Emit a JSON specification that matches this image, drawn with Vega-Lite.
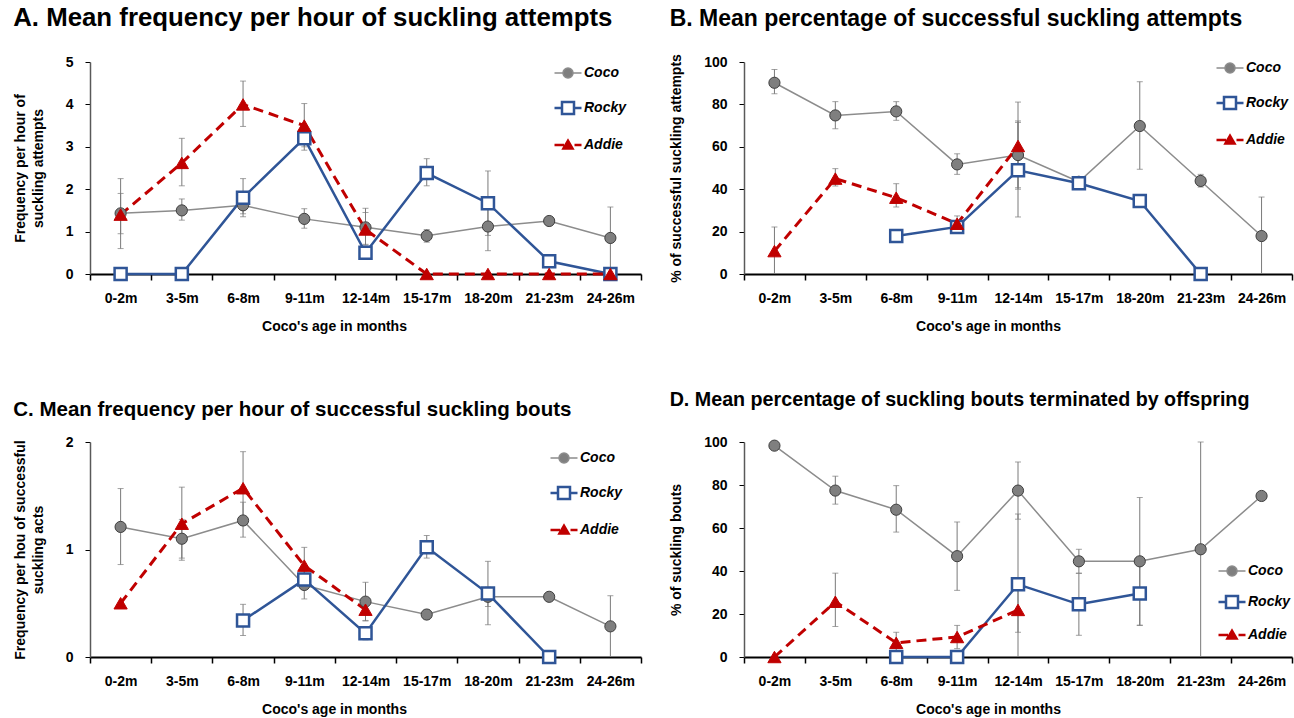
{
  "$schema": "https://vega.github.io/schema/vega-lite/v6.json",
  "padding": {"top": 5, "left": 13, "right": 2, "bottom": 2},
  "background": "#ffffff",
  "datasets": {
    "d": [
      {"p":"A","s":"Coco","k":0,"age":"0-2m","v":1.43,"lo":0.95,"hi":1.9},
      {"p":"A","s":"Coco","k":1,"age":"3-5m","v":1.5,"lo":1.27,"hi":1.77},
      {"p":"A","s":"Coco","k":2,"age":"6-8m","v":1.62,"lo":1.42,"hi":1.82},
      {"p":"A","s":"Coco","k":3,"age":"9-11m","v":1.3,"lo":1.08,"hi":1.54},
      {"p":"A","s":"Coco","k":4,"age":"12-14m","v":1.1,"lo":0.68,"hi":1.55},
      {"p":"A","s":"Coco","k":5,"age":"15-17m","v":0.9,"lo":0.75,"hi":1.05},
      {"p":"A","s":"Coco","k":6,"age":"18-20m","v":1.12,"lo":0.55,"hi":1.69},
      {"p":"A","s":"Coco","k":7,"age":"21-23m","v":1.25},
      {"p":"A","s":"Coco","k":8,"age":"24-26m","v":0.85,"lo":0,"hi":1.58},
      {"p":"A","s":"Rocky","k":0,"age":"0-2m","v":0},
      {"p":"A","s":"Rocky","k":1,"age":"3-5m","v":0},
      {"p":"A","s":"Rocky","k":2,"age":"6-8m","v":1.8,"lo":1.35,"hi":2.25},
      {"p":"A","s":"Rocky","k":3,"age":"9-11m","v":3.2,"lo":2.92,"hi":3.48},
      {"p":"A","s":"Rocky","k":4,"age":"12-14m","v":0.5},
      {"p":"A","s":"Rocky","k":5,"age":"15-17m","v":2.38,"lo":2.08,"hi":2.72},
      {"p":"A","s":"Rocky","k":6,"age":"18-20m","v":1.67,"lo":0.91,"hi":2.43},
      {"p":"A","s":"Rocky","k":7,"age":"21-23m","v":0.3},
      {"p":"A","s":"Rocky","k":8,"age":"24-26m","v":0},
      {"p":"A","s":"Addie","k":0,"age":"0-2m","v":1.4,"lo":0.6,"hi":2.25},
      {"p":"A","s":"Addie","k":1,"age":"3-5m","v":2.62,"lo":2.08,"hi":3.2},
      {"p":"A","s":"Addie","k":2,"age":"6-8m","v":4.0,"lo":3.48,"hi":4.55},
      {"p":"A","s":"Addie","k":3,"age":"9-11m","v":3.5,"lo":3.0,"hi":4.02},
      {"p":"A","s":"Addie","k":4,"age":"12-14m","v":1.05,"lo":0.7,"hi":1.45},
      {"p":"A","s":"Addie","k":5,"age":"15-17m","v":0},
      {"p":"A","s":"Addie","k":6,"age":"18-20m","v":0},
      {"p":"A","s":"Addie","k":7,"age":"21-23m","v":0},
      {"p":"A","s":"Addie","k":8,"age":"24-26m","v":0},

      {"p":"B","s":"Coco","k":0,"age":"0-2m","v":90.2,"lo":85,"hi":96.5},
      {"p":"B","s":"Coco","k":1,"age":"3-5m","v":74.8,"lo":68.5,"hi":81.3},
      {"p":"B","s":"Coco","k":2,"age":"6-8m","v":76.7,"lo":72.5,"hi":81.3},
      {"p":"B","s":"Coco","k":3,"age":"9-11m","v":51.7,"lo":47,"hi":56.7},
      {"p":"B","s":"Coco","k":4,"age":"12-14m","v":56.1,"lo":40.7,"hi":71.5},
      {"p":"B","s":"Coco","k":5,"age":"15-17m","v":43.5},
      {"p":"B","s":"Coco","k":6,"age":"18-20m","v":69.8,"lo":49.4,"hi":90.7},
      {"p":"B","s":"Coco","k":7,"age":"21-23m","v":43.9,"lo":41,"hi":47},
      {"p":"B","s":"Coco","k":8,"age":"24-26m","v":17.9,"lo":0,"hi":36.3},
      {"p":"B","s":"Rocky","k":2,"age":"6-8m","v":17.9},
      {"p":"B","s":"Rocky","k":3,"age":"9-11m","v":22.2},
      {"p":"B","s":"Rocky","k":4,"age":"12-14m","v":48.9,"lo":26.9,"hi":72.2},
      {"p":"B","s":"Rocky","k":5,"age":"15-17m","v":42.8},
      {"p":"B","s":"Rocky","k":6,"age":"18-20m","v":34.4},
      {"p":"B","s":"Rocky","k":7,"age":"21-23m","v":0},
      {"p":"B","s":"Addie","k":0,"age":"0-2m","v":10.8,"lo":0,"hi":22.2},
      {"p":"B","s":"Addie","k":1,"age":"3-5m","v":45,"lo":41.5,"hi":49.7},
      {"p":"B","s":"Addie","k":2,"age":"6-8m","v":36,"lo":31.6,"hi":42.6},
      {"p":"B","s":"Addie","k":3,"age":"9-11m","v":23.7,"lo":20.5,"hi":27.4},
      {"p":"B","s":"Addie","k":4,"age":"12-14m","v":60.4,"lo":40,"hi":81.1},

      {"p":"C","s":"Coco","k":0,"age":"0-2m","v":1.21,"lo":0.86,"hi":1.567},
      {"p":"C","s":"Coco","k":1,"age":"3-5m","v":1.1,"lo":0.92,"hi":1.28},
      {"p":"C","s":"Coco","k":2,"age":"6-8m","v":1.27,"lo":1.115,"hi":1.44},
      {"p":"C","s":"Coco","k":3,"age":"9-11m","v":0.67,"lo":0.54,"hi":0.8},
      {"p":"C","s":"Coco","k":4,"age":"12-14m","v":0.515,"lo":0.335,"hi":0.695},
      {"p":"C","s":"Coco","k":5,"age":"15-17m","v":0.395,"lo":0.35,"hi":0.44},
      {"p":"C","s":"Coco","k":6,"age":"18-20m","v":0.56,"lo":0.47,"hi":0.65},
      {"p":"C","s":"Coco","k":7,"age":"21-23m","v":0.56},
      {"p":"C","s":"Coco","k":8,"age":"24-26m","v":0.285,"lo":0,"hi":0.57},
      {"p":"C","s":"Rocky","k":2,"age":"6-8m","v":0.34,"lo":0.2,"hi":0.49},
      {"p":"C","s":"Rocky","k":3,"age":"9-11m","v":0.72},
      {"p":"C","s":"Rocky","k":4,"age":"12-14m","v":0.22,"lo":0.16,"hi":0.28},
      {"p":"C","s":"Rocky","k":5,"age":"15-17m","v":1.02,"lo":0.92,"hi":1.13},
      {"p":"C","s":"Rocky","k":6,"age":"18-20m","v":0.59,"lo":0.3,"hi":0.89},
      {"p":"C","s":"Rocky","k":7,"age":"21-23m","v":0},
      {"p":"C","s":"Addie","k":0,"age":"0-2m","v":0.5},
      {"p":"C","s":"Addie","k":1,"age":"3-5m","v":1.24,"lo":0.9,"hi":1.58},
      {"p":"C","s":"Addie","k":2,"age":"6-8m","v":1.57,"lo":1.23,"hi":1.91},
      {"p":"C","s":"Addie","k":3,"age":"9-11m","v":0.85,"lo":0.68,"hi":1.02},
      {"p":"C","s":"Addie","k":4,"age":"12-14m","v":0.44,"lo":0.34,"hi":0.54},

      {"p":"D","s":"Coco","k":0,"age":"0-2m","v":98.3},
      {"p":"D","s":"Coco","k":1,"age":"3-5m","v":77.4,"lo":71.1,"hi":84.1},
      {"p":"D","s":"Coco","k":2,"age":"6-8m","v":68.5,"lo":58.1,"hi":79.7},
      {"p":"D","s":"Coco","k":3,"age":"9-11m","v":46.9,"lo":31,"hi":62.8},
      {"p":"D","s":"Coco","k":4,"age":"12-14m","v":77.4,"lo":64.1,"hi":90.7},
      {"p":"D","s":"Coco","k":5,"age":"15-17m","v":44.5,"lo":39,"hi":50.1},
      {"p":"D","s":"Coco","k":6,"age":"18-20m","v":44.5,"lo":14.8,"hi":74.2},
      {"p":"D","s":"Coco","k":7,"age":"21-23m","v":50.1,"lo":0,"hi":100},
      {"p":"D","s":"Coco","k":8,"age":"24-26m","v":74.9},
      {"p":"D","s":"Rocky","k":2,"age":"6-8m","v":0},
      {"p":"D","s":"Rocky","k":3,"age":"9-11m","v":0},
      {"p":"D","s":"Rocky","k":4,"age":"12-14m","v":33.8,"lo":0,"hi":66.5},
      {"p":"D","s":"Rocky","k":5,"age":"15-17m","v":24.5,"lo":10.1,"hi":38.9},
      {"p":"D","s":"Rocky","k":6,"age":"18-20m","v":29.5,"lo":14.7,"hi":44.3},
      {"p":"D","s":"Addie","k":0,"age":"0-2m","v":0},
      {"p":"D","s":"Addie","k":1,"age":"3-5m","v":25.7,"lo":14.2,"hi":39},
      {"p":"D","s":"Addie","k":2,"age":"6-8m","v":6.6,"lo":1.7,"hi":11.5},
      {"p":"D","s":"Addie","k":3,"age":"9-11m","v":9.3,"lo":3.9,"hi":14.7},
      {"p":"D","s":"Addie","k":4,"age":"12-14m","v":21.9,"lo":11.5,"hi":32.3}
    ]
  },
  "columns": 2,
  "spacing": {"row": 168, "column": 103},
  "bounds": "flush",
  "resolve": {"scale": {"stroke": "independent", "y": "independent"}, "legend": {"stroke": "independent"}},
  "concat": [
    {
      "width": 551, "height": 212,
      "title": {"text": "A. Mean frequency per hour of suckling attempts", "fontSize": 25.8, "offset": 23},
      "data": {"name": "d"},
      "transform": [{"filter": "datum.p == 'A'"}],
      "encoding": {"x": {"field": "age", "type": "nominal", "bandPosition": 0.5, "scale": {"type": "band", "domain": ["0-2m","3-5m","6-8m","9-11m","12-14m","15-17m","18-20m","21-23m","24-26m"], "paddingInner": 0, "paddingOuter": 0}, "axis": {"title": "Coco's age in months"}}},
      "layer": [
        {"transform": [{"filter": "isValid(datum.hi)"}], "mark": {"type": "rule", "color": "#7a7a7a", "strokeWidth": 1}, "encoding": {"y": {"field": "lo", "type": "quantitative", "scale": {"domain": [0, 5], "nice": false}, "axis": {"tickCount": 5, "format": "d", "title": ["Frequency per hour of", "suckling attempts"]}}, "y2": {"field": "hi"}}},
        {"transform": [{"filter": "isValid(datum.hi)"}], "mark": {"type": "tick", "color": "#7a7a7a", "size": 6, "thickness": 1}, "encoding": {"y": {"field": "hi", "type": "quantitative"}}},
        {"transform": [{"filter": "isValid(datum.hi) && datum.lo > 0"}], "mark": {"type": "tick", "color": "#7a7a7a", "size": 6, "thickness": 1}, "encoding": {"y": {"field": "lo", "type": "quantitative"}}},
        {"transform": [{"filter": "datum.s == 'Coco'"}], "mark": {"type": "line", "strokeWidth": 1.5}, "encoding": {"y": {"field": "v", "type": "quantitative"}, "order": {"field": "k"}, "stroke": {"field": "s", "type": "nominal", "scale": {"domain": ["Coco","Rocky","Addie"], "range": ["#8c8c8c","#2f5597","#c00000"]}, "legend": {"orient": "none", "legendX": 471, "legendY": 4, "rowPadding": 16,
          "encode": {"symbols": {"update": {
            "shape": {"signal": "datum.value === 'Coco' ? 'M-2.7,0H-1M1,0H2.7M-1,0A1,1 0 1,1 1,0A1,1 0 1,1 -1,0Z' : datum.value === 'Rocky' ? 'M-2.7,0H-1.2M1.2,0H2.7M-1.2,-1.2H1.2V1.2H-1.2Z' : 'M-2.7,0H-0.8M1.3,0H2.7M-0.9,0.7L0,-0.85L0.9,0.7Z'"},
            "size": {"value": 100},
            "fill": {"signal": "datum.value === 'Coco' ? '#7f7f7f' : datum.value === 'Rocky' ? '#ffffff' : '#c00000'"},
            "stroke": {"signal": "datum.value === 'Coco' ? '#6f6f6f' : datum.value === 'Rocky' ? '#2f5597' : '#c00000'"},
            "strokeWidth": {"signal": "datum.value === 'Coco' ? 1.5 : 2.5"},
            "opacity": {"value": 1}}}}}}}},
        {"transform": [{"filter": "datum.s == 'Rocky'"}], "mark": {"type": "line", "strokeWidth": 2.5, "color": "#2f5597"}, "encoding": {"y": {"field": "v", "type": "quantitative"}, "order": {"field": "k"}}},
        {"transform": [{"filter": "datum.s == 'Addie'"}], "mark": {"type": "line", "strokeWidth": 3, "color": "#c00000", "strokeDash": [10, 6]}, "encoding": {"y": {"field": "v", "type": "quantitative"}, "order": {"field": "k"}}},
        {"transform": [{"filter": "datum.s == 'Coco'"}], "mark": {"type": "point", "shape": "circle", "filled": true, "fill": "#7f7f7f", "stroke": "#3f3f3f", "strokeWidth": 1, "size": 125, "opacity": 1}, "encoding": {"y": {"field": "v", "type": "quantitative"}}},
        {"transform": [{"filter": "datum.s == 'Rocky'"}], "mark": {"type": "point", "shape": "square", "filled": true, "fill": "#ffffff", "stroke": "#2f5597", "strokeWidth": 2.5, "size": 145, "opacity": 1}, "encoding": {"y": {"field": "v", "type": "quantitative"}}},
        {"transform": [{"filter": "datum.s == 'Addie'"}], "mark": {"type": "point", "shape": "triangle-up", "filled": true, "fill": "#c00000", "stroke": "#c00000", "strokeWidth": 1, "size": 175, "opacity": 1}, "encoding": {"y": {"field": "v", "type": "quantitative"}}}
      ]
    },
    {
      "width": 548, "height": 212,
      "title": {"text": "B. Mean percentage of successful suckling attempts", "fontSize": 23, "offset": 23},
      "data": {"name": "d"},
      "transform": [{"filter": "datum.p == 'B'"}],
      "encoding": {"x": {"field": "age", "type": "nominal", "bandPosition": 0.5, "scale": {"type": "band", "domain": ["0-2m","3-5m","6-8m","9-11m","12-14m","15-17m","18-20m","21-23m","24-26m"], "paddingInner": 0, "paddingOuter": 0}, "axis": {"title": "Coco's age in months"}}},
      "layer": [
        {"transform": [{"filter": "isValid(datum.hi)"}], "mark": {"type": "rule", "color": "#7a7a7a", "strokeWidth": 1}, "encoding": {"y": {"field": "lo", "type": "quantitative", "scale": {"domain": [0, 100], "nice": false}, "axis": {"tickCount": 5, "format": "d", "title": "% of successful suckling attempts"}}, "y2": {"field": "hi"}}},
        {"transform": [{"filter": "isValid(datum.hi)"}], "mark": {"type": "tick", "color": "#7a7a7a", "size": 6, "thickness": 1}, "encoding": {"y": {"field": "hi", "type": "quantitative"}}},
        {"transform": [{"filter": "isValid(datum.hi) && datum.lo > 0"}], "mark": {"type": "tick", "color": "#7a7a7a", "size": 6, "thickness": 1}, "encoding": {"y": {"field": "lo", "type": "quantitative"}}},
        {"transform": [{"filter": "datum.s == 'Coco'"}], "mark": {"type": "line", "strokeWidth": 1.5}, "encoding": {"y": {"field": "v", "type": "quantitative"}, "order": {"field": "k"}, "stroke": {"field": "s", "type": "nominal", "scale": {"domain": ["Coco","Rocky","Addie"], "range": ["#8c8c8c","#2f5597","#c00000"]}, "legend": {"orient": "none", "legendX": 479, "legendY": -1, "rowPadding": 16,
          "encode": {"symbols": {"update": {
            "shape": {"signal": "datum.value === 'Coco' ? 'M-2.7,0H-1M1,0H2.7M-1,0A1,1 0 1,1 1,0A1,1 0 1,1 -1,0Z' : datum.value === 'Rocky' ? 'M-2.7,0H-1.2M1.2,0H2.7M-1.2,-1.2H1.2V1.2H-1.2Z' : 'M-2.7,0H-0.8M1.3,0H2.7M-0.9,0.7L0,-0.85L0.9,0.7Z'"},
            "size": {"value": 100},
            "fill": {"signal": "datum.value === 'Coco' ? '#7f7f7f' : datum.value === 'Rocky' ? '#ffffff' : '#c00000'"},
            "stroke": {"signal": "datum.value === 'Coco' ? '#6f6f6f' : datum.value === 'Rocky' ? '#2f5597' : '#c00000'"},
            "strokeWidth": {"signal": "datum.value === 'Coco' ? 1.5 : 2.5"},
            "opacity": {"value": 1}}}}}}}},
        {"transform": [{"filter": "datum.s == 'Rocky'"}], "mark": {"type": "line", "strokeWidth": 2.5, "color": "#2f5597"}, "encoding": {"y": {"field": "v", "type": "quantitative"}, "order": {"field": "k"}}},
        {"transform": [{"filter": "datum.s == 'Addie'"}], "mark": {"type": "line", "strokeWidth": 3, "color": "#c00000", "strokeDash": [10, 6]}, "encoding": {"y": {"field": "v", "type": "quantitative"}, "order": {"field": "k"}}},
        {"transform": [{"filter": "datum.s == 'Coco'"}], "mark": {"type": "point", "shape": "circle", "filled": true, "fill": "#7f7f7f", "stroke": "#3f3f3f", "strokeWidth": 1, "size": 125, "opacity": 1}, "encoding": {"y": {"field": "v", "type": "quantitative"}}},
        {"transform": [{"filter": "datum.s == 'Rocky'"}], "mark": {"type": "point", "shape": "square", "filled": true, "fill": "#ffffff", "stroke": "#2f5597", "strokeWidth": 2.5, "size": 145, "opacity": 1}, "encoding": {"y": {"field": "v", "type": "quantitative"}}},
        {"transform": [{"filter": "datum.s == 'Addie'"}], "mark": {"type": "point", "shape": "triangle-up", "filled": true, "fill": "#c00000", "stroke": "#c00000", "strokeWidth": 1, "size": 175, "opacity": 1}, "encoding": {"y": {"field": "v", "type": "quantitative"}}}
      ]
    },
    {
      "width": 551, "height": 215,
      "title": {"text": "C. Mean frequency per hour of successful suckling bouts", "fontSize": 20.5, "offset": 15},
      "data": {"name": "d"},
      "transform": [{"filter": "datum.p == 'C'"}],
      "encoding": {"x": {"field": "age", "type": "nominal", "bandPosition": 0.5, "scale": {"type": "band", "domain": ["0-2m","3-5m","6-8m","9-11m","12-14m","15-17m","18-20m","21-23m","24-26m"], "paddingInner": 0, "paddingOuter": 0}, "axis": {"title": "Coco's age in months"}}},
      "layer": [
        {"transform": [{"filter": "isValid(datum.hi)"}], "mark": {"type": "rule", "color": "#7a7a7a", "strokeWidth": 1}, "encoding": {"y": {"field": "lo", "type": "quantitative", "scale": {"domain": [0, 2], "nice": false}, "axis": {"tickCount": 2, "format": "d", "title": ["Frequency per hou of successful", "suckling acts"]}}, "y2": {"field": "hi"}}},
        {"transform": [{"filter": "isValid(datum.hi)"}], "mark": {"type": "tick", "color": "#7a7a7a", "size": 6, "thickness": 1}, "encoding": {"y": {"field": "hi", "type": "quantitative"}}},
        {"transform": [{"filter": "isValid(datum.hi) && datum.lo > 0"}], "mark": {"type": "tick", "color": "#7a7a7a", "size": 6, "thickness": 1}, "encoding": {"y": {"field": "lo", "type": "quantitative"}}},
        {"transform": [{"filter": "datum.s == 'Coco'"}], "mark": {"type": "line", "strokeWidth": 1.5}, "encoding": {"y": {"field": "v", "type": "quantitative"}, "order": {"field": "k"}, "stroke": {"field": "s", "type": "nominal", "scale": {"domain": ["Coco","Rocky","Addie"], "range": ["#8c8c8c","#2f5597","#c00000"]}, "legend": {"orient": "none", "legendX": 467, "legendY": 9, "rowPadding": 16,
          "encode": {"symbols": {"update": {
            "shape": {"signal": "datum.value === 'Coco' ? 'M-2.7,0H-1M1,0H2.7M-1,0A1,1 0 1,1 1,0A1,1 0 1,1 -1,0Z' : datum.value === 'Rocky' ? 'M-2.7,0H-1.2M1.2,0H2.7M-1.2,-1.2H1.2V1.2H-1.2Z' : 'M-2.7,0H-0.8M1.3,0H2.7M-0.9,0.7L0,-0.85L0.9,0.7Z'"},
            "size": {"value": 100},
            "fill": {"signal": "datum.value === 'Coco' ? '#7f7f7f' : datum.value === 'Rocky' ? '#ffffff' : '#c00000'"},
            "stroke": {"signal": "datum.value === 'Coco' ? '#6f6f6f' : datum.value === 'Rocky' ? '#2f5597' : '#c00000'"},
            "strokeWidth": {"signal": "datum.value === 'Coco' ? 1.5 : 2.5"},
            "opacity": {"value": 1}}}}}}}},
        {"transform": [{"filter": "datum.s == 'Rocky'"}], "mark": {"type": "line", "strokeWidth": 2.5, "color": "#2f5597"}, "encoding": {"y": {"field": "v", "type": "quantitative"}, "order": {"field": "k"}}},
        {"transform": [{"filter": "datum.s == 'Addie'"}], "mark": {"type": "line", "strokeWidth": 3, "color": "#c00000", "strokeDash": [10, 6]}, "encoding": {"y": {"field": "v", "type": "quantitative"}, "order": {"field": "k"}}},
        {"transform": [{"filter": "datum.s == 'Coco'"}], "mark": {"type": "point", "shape": "circle", "filled": true, "fill": "#7f7f7f", "stroke": "#3f3f3f", "strokeWidth": 1, "size": 125, "opacity": 1}, "encoding": {"y": {"field": "v", "type": "quantitative"}}},
        {"transform": [{"filter": "datum.s == 'Rocky'"}], "mark": {"type": "point", "shape": "square", "filled": true, "fill": "#ffffff", "stroke": "#2f5597", "strokeWidth": 2.5, "size": 145, "opacity": 1}, "encoding": {"y": {"field": "v", "type": "quantitative"}}},
        {"transform": [{"filter": "datum.s == 'Addie'"}], "mark": {"type": "point", "shape": "triangle-up", "filled": true, "fill": "#c00000", "stroke": "#c00000", "strokeWidth": 1, "size": 175, "opacity": 1}, "encoding": {"y": {"field": "v", "type": "quantitative"}}}
      ]
    },
    {
      "width": 548, "height": 215,
      "title": {"text": "D. Mean percentage of suckling bouts terminated by offspring", "fontSize": 19.7, "offset": 25},
      "data": {"name": "d"},
      "transform": [{"filter": "datum.p == 'D'"}],
      "encoding": {"x": {"field": "age", "type": "nominal", "bandPosition": 0.5, "scale": {"type": "band", "domain": ["0-2m","3-5m","6-8m","9-11m","12-14m","15-17m","18-20m","21-23m","24-26m"], "paddingInner": 0, "paddingOuter": 0}, "axis": {"title": "Coco's age in months"}}},
      "layer": [
        {"transform": [{"filter": "isValid(datum.hi)"}], "mark": {"type": "rule", "color": "#7a7a7a", "strokeWidth": 1}, "encoding": {"y": {"field": "lo", "type": "quantitative", "scale": {"domain": [0, 100], "nice": false}, "axis": {"tickCount": 5, "format": "d", "title": "% of suckling bouts"}}, "y2": {"field": "hi"}}},
        {"transform": [{"filter": "isValid(datum.hi)"}], "mark": {"type": "tick", "color": "#7a7a7a", "size": 6, "thickness": 1}, "encoding": {"y": {"field": "hi", "type": "quantitative"}}},
        {"transform": [{"filter": "isValid(datum.hi) && datum.lo > 0"}], "mark": {"type": "tick", "color": "#7a7a7a", "size": 6, "thickness": 1}, "encoding": {"y": {"field": "lo", "type": "quantitative"}}},
        {"transform": [{"filter": "datum.s == 'Coco'"}], "mark": {"type": "line", "strokeWidth": 1.5}, "encoding": {"y": {"field": "v", "type": "quantitative"}, "order": {"field": "k"}, "stroke": {"field": "s", "type": "nominal", "scale": {"domain": ["Coco","Rocky","Addie"], "range": ["#8c8c8c","#2f5597","#c00000"]}, "legend": {"orient": "none", "legendX": 481, "legendY": 122, "rowPadding": 12,
          "encode": {"symbols": {"update": {
            "shape": {"signal": "datum.value === 'Coco' ? 'M-2.7,0H-1M1,0H2.7M-1,0A1,1 0 1,1 1,0A1,1 0 1,1 -1,0Z' : datum.value === 'Rocky' ? 'M-2.7,0H-1.2M1.2,0H2.7M-1.2,-1.2H1.2V1.2H-1.2Z' : 'M-2.7,0H-0.8M1.3,0H2.7M-0.9,0.7L0,-0.85L0.9,0.7Z'"},
            "size": {"value": 100},
            "fill": {"signal": "datum.value === 'Coco' ? '#7f7f7f' : datum.value === 'Rocky' ? '#ffffff' : '#c00000'"},
            "stroke": {"signal": "datum.value === 'Coco' ? '#6f6f6f' : datum.value === 'Rocky' ? '#2f5597' : '#c00000'"},
            "strokeWidth": {"signal": "datum.value === 'Coco' ? 1.5 : 2.5"},
            "opacity": {"value": 1}}}}}}}},
        {"transform": [{"filter": "datum.s == 'Rocky'"}], "mark": {"type": "line", "strokeWidth": 2.5, "color": "#2f5597"}, "encoding": {"y": {"field": "v", "type": "quantitative"}, "order": {"field": "k"}}},
        {"transform": [{"filter": "datum.s == 'Addie'"}], "mark": {"type": "line", "strokeWidth": 3, "color": "#c00000", "strokeDash": [10, 6]}, "encoding": {"y": {"field": "v", "type": "quantitative"}, "order": {"field": "k"}}},
        {"transform": [{"filter": "datum.s == 'Coco'"}], "mark": {"type": "point", "shape": "circle", "filled": true, "fill": "#7f7f7f", "stroke": "#3f3f3f", "strokeWidth": 1, "size": 125, "opacity": 1}, "encoding": {"y": {"field": "v", "type": "quantitative"}}},
        {"transform": [{"filter": "datum.s == 'Rocky'"}], "mark": {"type": "point", "shape": "square", "filled": true, "fill": "#ffffff", "stroke": "#2f5597", "strokeWidth": 2.5, "size": 145, "opacity": 1}, "encoding": {"y": {"field": "v", "type": "quantitative"}}},
        {"transform": [{"filter": "datum.s == 'Addie'"}], "mark": {"type": "point", "shape": "triangle-up", "filled": true, "fill": "#c00000", "stroke": "#c00000", "strokeWidth": 1, "size": 175, "opacity": 1}, "encoding": {"y": {"field": "v", "type": "quantitative"}}}
      ]
    }
  ],
  "config": {
    "view": {"stroke": null},
    "font": "Liberation Sans",
    "title": {"font": "Liberation Sans", "fontWeight": "bold", "anchor": "start", "color": "#000000"},
    "axis": {"labelFont": "Liberation Sans", "labelFontSize": 14, "labelFontWeight": "bold", "labelColor": "#000000", "titleFont": "Liberation Sans", "titleFontSize": 14, "titleFontWeight": "bold", "titleColor": "#000000", "grid": false, "domainColor": "#000000", "tickColor": "#000000", "labelOverlap": false},
    "axisX": {"domainWidth": 2, "tickSize": 6, "tickWidth": 1.5, "labelPadding": 11, "titlePadding": 14, "tickBand": "extent", "labelAngle": 0, "titleX": 244},
    "axisY": {"domainWidth": 1.5, "domainColor": "#595959", "tickSize": 5, "tickWidth": 1, "labelPadding": 12, "titlePadding": 20, "titleLineHeight": 18, "labelFlush": false},
    "legend": {
      "title": null, "padding": 0,
      "labelFont": "Liberation Sans", "labelFontSize": 14, "labelFontStyle": "italic", "labelFontWeight": "bold", "labelColor": "#000000",
      "labelOffset": 9, "symbolSize": 100, "symbolStrokeWidth": 2
    }
  }
}
